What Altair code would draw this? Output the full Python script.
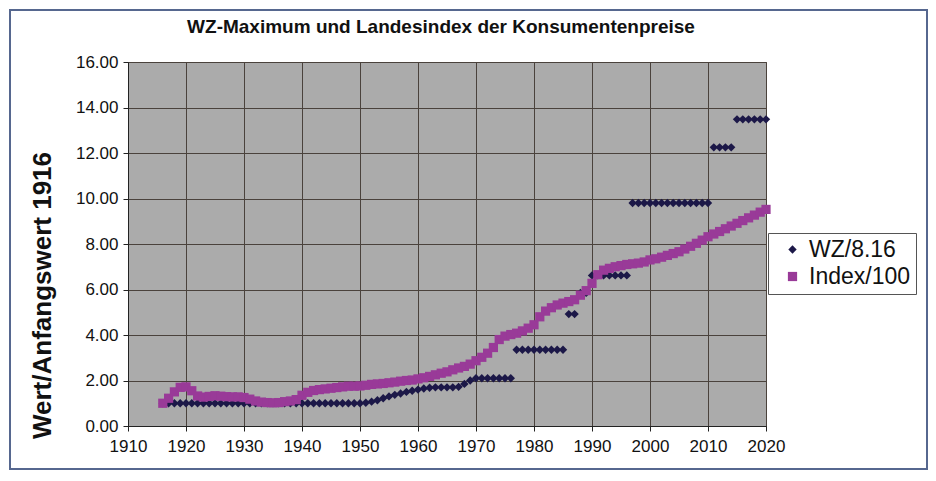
import altair as alt
import pandas as pd

# ---- data ----
years = list(range(1916, 2021))

wz_values = [
    1.0, 1.0, 1.0, 1.0, 1.0, 1.0, 1.0, 1.0, 1.0, 1.0,          # 1916-1925
    1.0, 1.0, 1.0, 1.0, 1.0, 1.0, 1.0, 1.0, 1.0, 1.0,          # 1926-1935
    1.0, 1.0, 1.0, 1.0, 1.0, 1.0, 1.0, 1.0, 1.0, 1.0,          # 1936-1945
    1.0, 1.0, 1.0, 1.0, 1.0,                                   # 1946-1950
    1.02, 1.07, 1.13, 1.22, 1.3, 1.37, 1.43, 1.5, 1.55, 1.6,   # 1951-1960
    1.65, 1.68, 1.7, 1.7, 1.7, 1.7, 1.72, 1.85, 2.0, 2.1,      # 1961-1970
    2.1, 2.1, 2.1, 2.1, 2.1, 2.1,                              # 1971-1976
    3.35, 3.35, 3.35, 3.35, 3.35, 3.35, 3.35, 3.35, 3.35,      # 1977-1985
    4.92, 4.92,                                                # 1986-1987
    5.85, 5.85,                                                # 1988-1989
    6.62, 6.62, 6.62, 6.62, 6.62, 6.62, 6.62,                  # 1990-1996
    9.8, 9.8, 9.8, 9.8, 9.8, 9.8, 9.8,                         # 1997-2003
    9.8, 9.8, 9.8, 9.8, 9.8, 9.8, 9.8,                         # 2004-2010
    12.25, 12.25, 12.25, 12.25,                                # 2011-2014
    13.48, 13.48, 13.48, 13.48, 13.48, 13.48,                  # 2015-2020
]

index_values = [
    1.0, 1.22, 1.5, 1.7, 1.72, 1.55, 1.32, 1.27, 1.3, 1.33,        # 1916-1925
    1.31, 1.29, 1.28, 1.28, 1.25, 1.18, 1.1, 1.05, 1.03, 1.02,     # 1926-1935
    1.03, 1.07, 1.1, 1.16, 1.35, 1.48, 1.56, 1.6, 1.63, 1.66,      # 1936-1945
    1.69, 1.72, 1.75, 1.75, 1.76, 1.79, 1.83, 1.85, 1.87, 1.9,     # 1946-1955
    1.93, 1.97, 2.0, 2.02, 2.07, 2.12, 2.18, 2.25, 2.32, 2.38,     # 1956-1965
    2.47, 2.55, 2.62, 2.72, 2.87, 3.02, 3.2, 3.45, 3.8, 3.95,      # 1966-1975
    4.02, 4.08, 4.18, 4.3, 4.45, 4.8, 5.05, 5.2, 5.32, 5.4,        # 1976-1985
    5.47, 5.55, 5.75, 5.95, 6.27, 6.65, 6.85, 6.93, 7.0, 7.05,     # 1986-1995
    7.1, 7.13, 7.16, 7.21, 7.3, 7.35, 7.42, 7.5, 7.58, 7.66,       # 1996-2005
    7.78, 7.9, 8.03, 8.17, 8.32, 8.44, 8.55, 8.67, 8.79, 8.91,     # 2006-2015
    9.03, 9.15, 9.27, 9.4, 9.52,                                   # 2016-2020
]

series_names = ["WZ/8.16", "Index/100"]
series_colors = ["#1c1848", "#993a98"]
series_shapes = ["diamond", "square"]
series_sizes = [70, 85]
x_ticks = list(range(1910, 2021, 10))
y_ticks = list(range(0, 17, 2))

title_text = "WZ-Maximum und Landesindex der Konsumentenpreise"
y_title = "Wert/Anfangswert 1916"

n = len(years)
df = pd.DataFrame({
    "Jahr": years + years,
    "Wert": wz_values + index_values,
    "Reihe": [series_names[0]] * n + [series_names[1]] * n,
    "z": [0] * n + [1] * n,
})

FONT = "Liberation Sans"
GRID = "#4a423c"

points = alt.Chart(df).mark_point(filled=True, opacity=1).encode(
    x=alt.X("Jahr:Q",
            scale=alt.Scale(domain=[1910, 2020], nice=False, zero=False),
            axis=alt.Axis(values=x_ticks, format="d", title=None,
                          labelFont=FONT, labelFontSize=17, labelColor="#111",
                          labelPadding=7, tickSize=5, tickColor="#222",
                          domainColor="#222", grid=True, gridColor=GRID,
                          gridOpacity=1, labelFlush=False)),
    y=alt.Y("Wert:Q",
            scale=alt.Scale(domain=[0, 16], nice=False, zero=True),
            axis=alt.Axis(values=y_ticks, format=".2f", title=y_title,
                          labelFont=FONT, labelFontSize=17, labelColor="#111",
                          labelPadding=5, tickSize=5, tickColor="#222",
                          domainColor="#222", grid=True, gridColor=GRID,
                          gridOpacity=1,
                          titleFont=FONT, titleFontSize=26, titleFontWeight="bold",
                          titleColor="#111", titleAngle=-90, titleX=-86, titleY=233,
                          titleAlign="center", titleBaseline="middle")),
    color=alt.Color("Reihe:N",
                    scale=alt.Scale(domain=series_names, range=series_colors),
                    legend=alt.Legend(title=None, orient="none", legendX=640, legendY=171,
                                      labelFont=FONT, labelFontSize=23, labelColor="#111",
                                      symbolSize=36, symbolOffset=8, labelOffset=5,
                                      padding=5, rowPadding=3,
                                      fillColor="white", strokeColor="#555")),
    shape=alt.Shape("Reihe:N",
                    scale=alt.Scale(domain=series_names, range=series_shapes),
                    legend=alt.Legend(title=None, orient="none", legendX=640, legendY=171)),
    size=alt.Size("Reihe:N",
                  scale=alt.Scale(domain=series_names, range=series_sizes),
                  legend=None),
    order=alt.Order("z:Q"),
)

frame = alt.Chart(pd.DataFrame({"k": [0]})).mark_rect(
    fillOpacity=0, stroke="#56678f", strokeWidth=2
).encode(
    x=alt.value(-118), x2=alt.value(799), y=alt.value(-52), y2=alt.value(407)
)

title = alt.Chart(pd.DataFrame({"t": [title_text]})).mark_text(
    font=FONT, fontSize=19, fontWeight="bold", color="#111",
    align="center", baseline="middle"
).encode(
    text="t:N", x=alt.value(313), y=alt.value(-35)
)

chart = alt.layer(frame, points, title).properties(
    width=638, height=364,
    autosize=alt.AutoSizeParams(type="none"),
    padding={"left": 120, "top": 54, "right": 162, "bottom": 46},
).configure(
    background="white",
    view=alt.ViewConfig(fill="#ababab", stroke=GRID, strokeWidth=1),
)

chart.save("out.html", embed_options={"renderer": "svg", "actions": False})
